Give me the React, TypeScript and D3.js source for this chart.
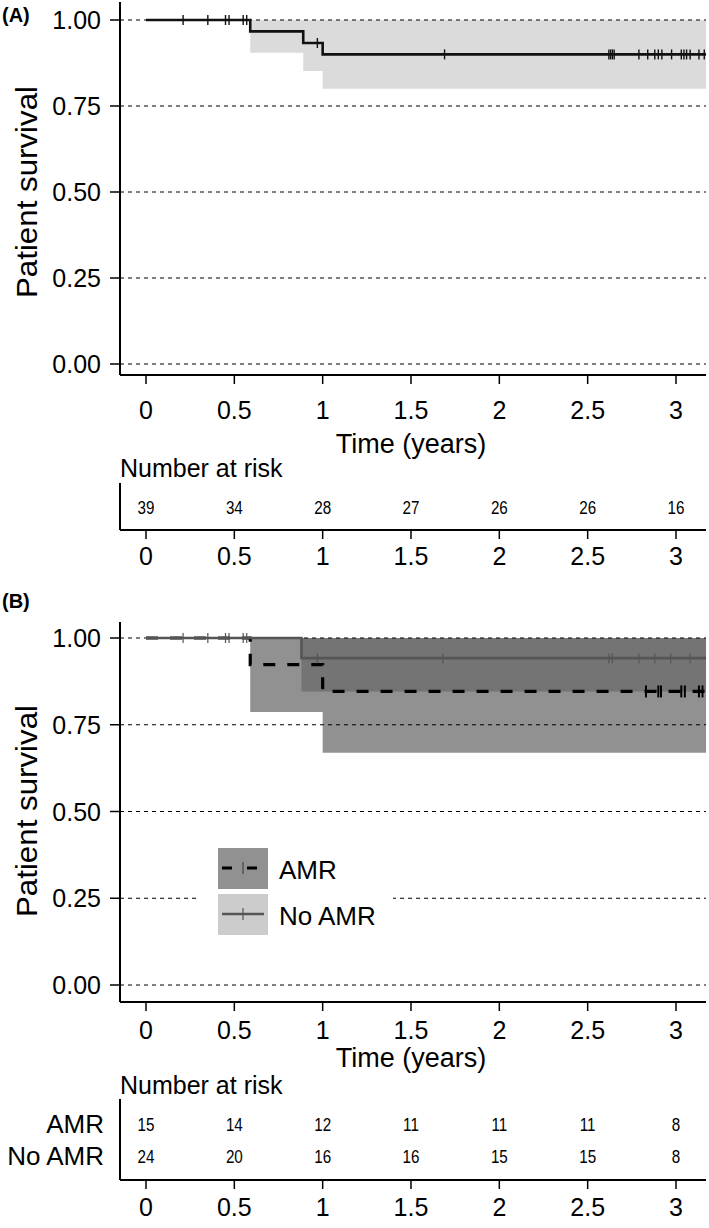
import React from 'react';
import * as d3 from 'd3';

// ---------- data ----------
const TIME_TICKS = [0, 0.5, 1, 1.5, 2, 2.5, 3];
const TIME_LABELS = ['0', '0.5', '1', '1.5', '2', '2.5', '3'];
const SURV_TICKS = [0, 0.25, 0.5, 0.75, 1];
const SURV_LABELS = ['0.00', '0.25', '0.50', '0.75', '1.00'];
const T_END = 3.17;

// Panel A (all patients)
const allTimes = [0, 0.59, 0.89, 1.0];
const allSurv = [1, 0.967, 0.933, 0.9];
const allLower = [1, 0.905, 0.852, 0.8];
const allUpper = [1, 1, 1, 1];
const allCensor = [0.21, 0.35, 0.45, 0.47, 0.55, 0.57, 0.97, 1.69, 2.62, 2.63, 2.64, 2.65, 2.79, 2.84, 2.88, 2.9, 2.92, 2.975, 3.03, 3.045, 3.06, 3.08, 3.13, 3.16];
const allRisk = [39, 34, 28, 27, 26, 26, 16];

// Panel B (AMR vs No AMR)
const groupNames = ['AMR', 'No AMR'];
const amrTimes = [0, 0.59, 1.0];
const amrSurv = [1, 0.923, 0.846];
const amrLower = [1, 0.787, 0.669];
const amrUpper = [1, 1, 1];
const amrCensor = [2.83, 2.9, 2.915, 3.03, 3.05, 3.13, 3.15];
const amrRisk = [15, 14, 12, 11, 11, 11, 8];

const noAmrTimes = [0, 0.88];
const noAmrSurv = [1, 0.942];
const noAmrLower = [1, 0.846];
const noAmrUpper = [1, 1];
const noAmrCensor = [0.21, 0.35, 0.45, 0.47, 0.55, 0.57, 0.97, 1.68, 2.62, 2.64, 2.79, 2.88, 2.97, 3.08];
const noAmrRisk = [24, 20, 16, 16, 15, 15, 8];

// ---------- helpers ----------
const FONT = "'Liberation Sans', Arial, Helvetica, sans-serif";
const xScale = d3.scaleLinear().domain([0, 3]).range([146, 676]);
const AX_X = 120;
const RIGHT = 706;

type Pt = { t: number; v: number; lo: number; hi: number };

function pts(times: number[], surv: number[], lo: number[], hi: number[]): Pt[] {
  const p = times.map((t, i) => ({ t, v: surv[i], lo: lo[i], hi: hi[i] }));
  const last = p[p.length - 1];
  p.push({ t: T_END, v: last.v, lo: last.lo, hi: last.hi });
  return p;
}

function stepAt(times: number[], surv: number[], t: number) {
  let s = surv[0];
  for (let i = 0; i < times.length; i++) if (times[i] <= t) s = surv[i];
  return s;
}

function Grid({ y }: { y: d3.ScaleLinear<number, number> }) {
  return (
    <g>
      {SURV_TICKS.map((v) => (
        <line key={v} x1={AX_X} x2={RIGHT} y1={y(v)} y2={y(v)} stroke="#000" strokeWidth={1} strokeDasharray="4,4" />
      ))}
    </g>
  );
}

function YAxis({ y, top, bottom, labelCenter }: { y: d3.ScaleLinear<number, number>; top: number; bottom: number; labelCenter: number }) {
  return (
    <g fontFamily={FONT}>
      <line x1={AX_X} x2={AX_X} y1={top} y2={bottom} stroke="#000" strokeWidth={2} />
      {SURV_TICKS.map((v, i) => (
        <g key={v}>
          <line x1={AX_X - 10} x2={AX_X} y1={y(v)} y2={y(v)} stroke="#000" strokeWidth={1.5} />
          <text x={101} y={y(v) + 9} fontSize={25} textAnchor="end">{SURV_LABELS[i]}</text>
        </g>
      ))}
      <text
        transform={`translate(37,${labelCenter}) rotate(-90)`}
        fontSize={29}
        textAnchor="middle"
        textLength={212}
        lengthAdjust="spacingAndGlyphs"
      >Patient survival</text>
    </g>
  );
}

function XAxis({ axisY, labelY, titleY }: { axisY: number; labelY: number; titleY: number }) {
  return (
    <g fontFamily={FONT}>
      <line x1={AX_X} x2={RIGHT} y1={axisY} y2={axisY} stroke="#000" strokeWidth={2} />
      {TIME_TICKS.map((t, i) => (
        <g key={t}>
          <line x1={xScale(t)} x2={xScale(t)} y1={axisY} y2={axisY + 9} stroke="#000" strokeWidth={1.5} />
          <text x={xScale(t)} y={labelY} fontSize={25} textAnchor="middle">{TIME_LABELS[i]}</text>
        </g>
      ))}
      {titleY > 0 && (
        <text x={xScale(1.5)} y={titleY} fontSize={27} textAnchor="middle">Time (years)</text>
      )}
    </g>
  );
}

function RiskRow({ values, y }: { values: number[]; y: number }) {
  return (
    <g fontFamily={FONT}>
      {values.map((v, i) => (
        <text key={i} transform={`translate(${xScale(TIME_TICKS[i])},${y}) scale(0.8,1)`} fontSize={19} textAnchor="middle">{v}</text>
      ))}
    </g>
  );
}

function Curve({ p, y, stroke, width, dash }: { p: Pt[]; y: d3.ScaleLinear<number, number>; stroke: string; width: number; dash?: string }) {
  const line = d3.line<Pt>().x((d) => xScale(d.t)).y((d) => y(d.v)).curve(d3.curveStepAfter);
  return <path d={line(p) || ''} fill="none" stroke={stroke} strokeWidth={width} strokeDasharray={dash} />;
}

function Band({ p, y, fill, opacity }: { p: Pt[]; y: d3.ScaleLinear<number, number>; fill: string; opacity: number }) {
  const area = d3.area<Pt>().x((d) => xScale(d.t)).y0((d) => y(d.lo)).y1((d) => y(d.hi)).curve(d3.curveStepAfter);
  return <path d={area(p) || ''} fill={fill} fillOpacity={opacity} stroke="none" />;
}

function Censors({ ts, times, surv, y, stroke, width, half }: { ts: number[]; times: number[]; surv: number[]; y: d3.ScaleLinear<number, number>; stroke: string; width: number; half: number }) {
  return (
    <g>
      {ts.map((t, i) => {
        const cy = y(stepAt(times, surv, t));
        return <line key={i} x1={xScale(t)} x2={xScale(t)} y1={cy - half} y2={cy + half} stroke={stroke} strokeWidth={width} />;
      })}
    </g>
  );
}

export default function App() {
  const yA = d3.scaleLinear().domain([0, 1]).range([364, 20]);
  const yB = d3.scaleLinear().domain([0, 1]).range([985, 638]);

  const pA = pts(allTimes, allSurv, allLower, allUpper);
  const pAmr = pts(amrTimes, amrSurv, amrLower, amrUpper);
  const pNo = pts(noAmrTimes, noAmrSurv, noAmrLower, noAmrUpper);

  return (
    <svg width={709} height={1228} style={{ position: 'absolute', left: 0, top: 0, background: '#fff' }}>
      <rect x={0} y={0} width={709} height={1228} fill="#fff" />

      {/* ---------- Panel A ---------- */}
      <text x={2} y={22} fontFamily={FONT} fontSize={20} fontWeight="bold">(A)</text>
      <Band p={pA} y={yA} fill="#000" opacity={0.14} />
      <Grid y={yA} />
      <Curve p={pA} y={yA} stroke="#111" width={2.6} />
      <Censors ts={allCensor} times={allTimes} surv={allSurv} y={yA} stroke="#111" width={1.4} half={5} />
      <YAxis y={yA} top={2} bottom={375} labelCenter={192} />
      <XAxis axisY={375} labelY={419} titleY={453} />

      {/* risk table A */}
      <text x={AX_X} y={477} fontFamily={FONT} fontSize={25}>Number at risk</text>
      <line x1={AX_X} x2={AX_X} y1={483} y2={530} stroke="#000" strokeWidth={2} />
      <RiskRow values={allRisk} y={514} />
      <XAxis axisY={530} labelY={565} titleY={0} />

      {/* ---------- Panel B ---------- */}
      <text x={2} y={608} fontFamily={FONT} fontSize={20} fontWeight="bold">(B)</text>
      <Band p={pAmr} y={yB} fill="#000" opacity={0.43} />
      <Band p={pNo} y={yB} fill="#000" opacity={0.2} />
      <Grid y={yB} />
      <Curve p={pAmr} y={yB} stroke="#000" width={3.2} dash="12,12" />
      <Censors ts={amrCensor} times={amrTimes} surv={amrSurv} y={yB} stroke="#000" width={2} half={6} />
      <Curve p={pNo} y={yB} stroke="#555" width={2.6} />
      <Censors ts={noAmrCensor} times={noAmrTimes} surv={noAmrSurv} y={yB} stroke="#555" width={1.2} half={5} />
      <YAxis y={yB} top={622} bottom={1002} labelCenter={811} />
      <XAxis axisY={1002} labelY={1039} titleY={1067} />

      {/* legend */}
      <g fontFamily={FONT}>
        <rect x={200} y={838} width={193} height={102} fill="#fff" />
        <rect x={218} y={848} width={50} height={41} fill="#000" fillOpacity={0.43} />
        <line x1={222} x2={262} y1={868} y2={868} stroke="#000" strokeWidth={3.2} strokeDasharray="10,15" />
        <line x1={243} x2={243} y1={862} y2={874} stroke="#555" strokeWidth={1.5} />
        <text x={279} y={879} fontSize={26}>{groupNames[0]}</text>
        <rect x={218} y={894} width={50} height={41} fill="#000" fillOpacity={0.2} />
        <line x1={222} x2={264} y1={914} y2={914} stroke="#555" strokeWidth={2.6} />
        <line x1={243} x2={243} y1={908} y2={920} stroke="#555" strokeWidth={1.2} />
        <text x={279} y={925} fontSize={26}>{groupNames[1]}</text>
      </g>

      {/* risk table B */}
      <text x={AX_X} y={1094} fontFamily={FONT} fontSize={25}>Number at risk</text>
      <line x1={AX_X} x2={AX_X} y1={1099} y2={1180} stroke="#000" strokeWidth={2} />
      <text x={104} y={1133} fontFamily={FONT} fontSize={26} textAnchor="end">{groupNames[0]}</text>
      <text x={104} y={1165} fontFamily={FONT} fontSize={26} textAnchor="end">{groupNames[1]}</text>
      <RiskRow values={amrRisk} y={1131} />
      <RiskRow values={noAmrRisk} y={1163} />
      <XAxis axisY={1180} labelY={1216} titleY={0} />
    </svg>
  );
}
